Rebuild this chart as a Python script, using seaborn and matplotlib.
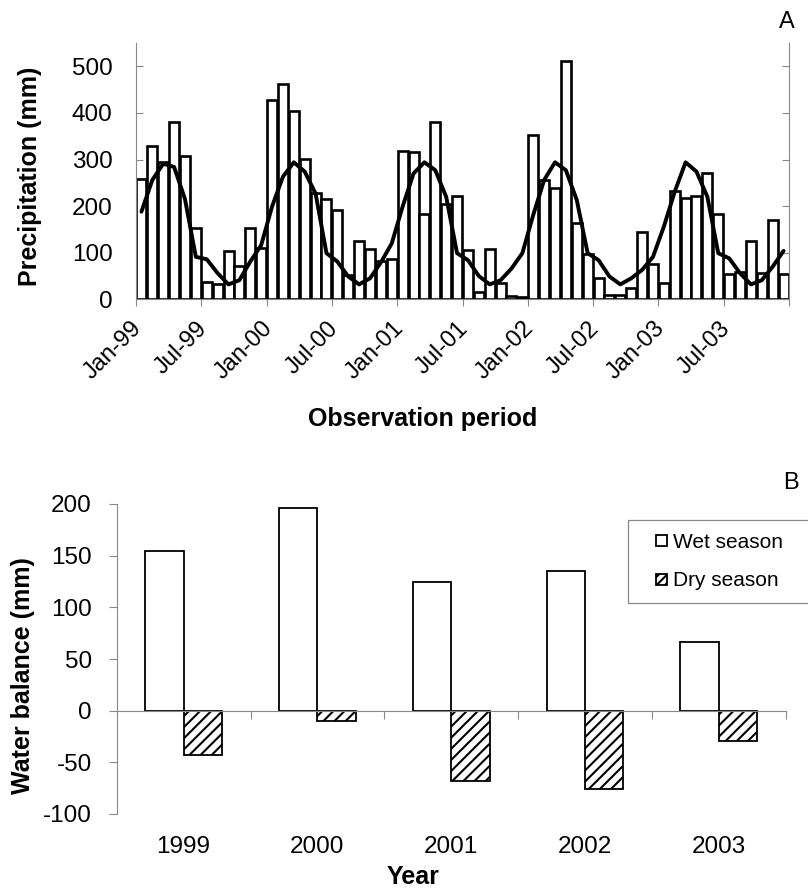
import numpy as np
import pandas as pd
import matplotlib
matplotlib.use("Agg")
import matplotlib.pyplot as plt
import matplotlib.transforms as mtransforms
import seaborn as sns
from matplotlib.patches import Rectangle
from matplotlib.legend_handler import HandlerPatch

# ---------------- data ----------------
month_names = ["Jan", "Feb", "Mar", "Apr", "May", "Jun",
               "Jul", "Aug", "Sep", "Oct", "Nov", "Dec"]
year_codes = ["99", "00", "01", "02", "03"]

precip = [258, 330, 295, 381, 307, 152, 38, 32, 103, 71, 154, 110,
          427, 462, 405, 301, 229, 215, 191, 52, 126, 109, 82, 86,
          319, 316, 184, 381, 205, 221, 106, 15, 109, 36, 7, 5,
          352, 256, 239, 511, 164, 97, 45, 9, 9, 25, 145, 75,
          34, 233, 218, 221, 272, 182, 54, 58, 126, 56, 170, 54]

trend = [188, 256, 291, 284, 215, 91, 86, 56, 32, 41, 81, 116,
         199, 263, 294, 274, 227, 99, 81, 49, 32, 45, 79, 120,
         199, 270, 294, 277, 220, 99, 84, 50, 32, 41, 66, 99,
         181, 256, 294, 277, 213, 99, 84, 49, 32, 45, 63, 91,
         156, 231, 294, 274, 220, 99, 88, 56, 32, 41, 70, 104]

years = ["1999", "2000", "2001", "2002", "2003"]
wet_balance = [155, 196, 125, 135, 66]
dry_balance = [-43, -10, -68, -76, -29]
seasons = ["Wet season", "Dry season"]

# ---------------- style ----------------
sns.set_theme(style="white")
plt.rcParams["font.family"] = ["Liberation Sans", "DejaVu Sans"]
plt.rcParams["axes.unicode_minus"] = False
plt.rcParams["hatch.linewidth"] = 1.5
plt.rcParams["hatch.color"] = "black"
plt.rcParams["text.color"] = "black"
plt.rcParams["axes.labelcolor"] = "black"
plt.rcParams["xtick.labelcolor"] = "black"
plt.rcParams["ytick.labelcolor"] = "black"

GRAY = "#888888"
W, H = 808, 893

fig = plt.figure(figsize=(W / 100, H / 100), dpi=100)
axA = fig.add_axes([136 / W, 1 - 299.3 / H, 653 / W, 256.3 / H])
axB = fig.add_axes([116.7 / W, 1 - 814 / H, 669 / W, 310 / H])

# ---------------- panel A ----------------
month_labels = [f"{m}-{y}" for y in year_codes for m in month_names]
dfA = pd.DataFrame({"idx": np.arange(len(precip)), "month": month_labels,
                    "precip": precip, "trend": trend})

sns.barplot(data=dfA, x="idx", y="precip", native_scale=True, color="white",
            saturation=1, edgecolor="black", linewidth=1.9, width=0.92,
            errorbar=None, ax=axA)
sns.lineplot(data=dfA, x="idx", y="trend", color="black", linewidth=2.8, ax=axA)

axA.set_xlim(-0.5, len(precip) - 0.5)
axA.set_ylim(0, 550)
axA.set_yticks([0, 100, 200, 300, 400, 500])
axA.tick_params(axis="y", direction="in", length=4.8, width=0.8, color=GRAY,
                left=True, right=True, labelleft=True, labelright=False,
                labelsize=17.5, pad=17, labelcolor="black")
label_pos = list(range(0, len(precip), 6))
axA.set_xticks(label_pos)
axA.set_xticklabels([month_labels[i] for i in label_pos], rotation=45, ha="right")
axA.set_xticks([b - 0.5 for b in range(0, len(precip) + 1, 6)], minor=True)
axA.tick_params(axis="x", which="major", length=0, labelsize=17, pad=13,
                bottom=True, labelcolor="black")
axA.tick_params(axis="x", which="minor", direction="out", length=4.8,
                width=0.8, color=GRAY, bottom=True)
shift = mtransforms.ScaledTranslation(5 / 100, 0, fig.dpi_scale_trans)
for lab in axA.get_xticklabels():
    lab.set_transform(lab.get_transform() + shift)
for s in ["left", "right", "bottom"]:
    axA.spines[s].set_color(GRAY)
    axA.spines[s].set_linewidth(0.8)
axA.spines["top"].set_visible(False)
axA.set_xlabel("Observation period", fontsize=18, fontweight="bold", color="black")
axA.xaxis.set_label_coords(0.4387, -0.42)
axA.set_ylabel("Precipitation (mm)", fontsize=18, fontweight="bold", color="black")
axA.yaxis.set_label_coords(-0.144, 0.481)

# ---------------- panel B ----------------
dfB = pd.DataFrame({
    "year": years * 2,
    "season": [seasons[0]] * len(years) + [seasons[1]] * len(years),
    "balance": wet_balance + dry_balance,
})
sns.barplot(data=dfB, x="year", y="balance", hue="season", hue_order=seasons,
            palette={seasons[0]: "white", seasons[1]: "white"}, saturation=1,
            edgecolor="black", linewidth=1.3, width=0.575, errorbar=None,
            legend=False, ax=axB)
for p in axB.containers[1].patches:
    p.set_hatch("///")

axB.set_xlim(-0.5, len(years) - 0.5)
axB.set_ylim(-100, 200)
axB.set_yticks([-100, -50, 0, 50, 100, 150, 200])
axB.tick_params(axis="y", direction="out", length=5.8, width=0.8, color=GRAY,
                labelsize=17.5, pad=12, left=True, labelcolor="black")
axB.set_xticks(range(len(years)))
axB.set_xticklabels(years)
axB.set_xticks([i + 0.5 for i in range(len(years))], minor=True)
axB.tick_params(axis="x", which="major", length=0, labelsize=17.5, pad=90,
                bottom=True, labelcolor="black")
axB.tick_params(axis="x", which="minor", direction="out", length=5.5,
                width=0.8, color=GRAY, bottom=True)
axB.spines["bottom"].set_position(("data", 0))
for s in ["left", "bottom"]:
    axB.spines[s].set_color(GRAY)
    axB.spines[s].set_linewidth(0.8)
axB.spines["top"].set_visible(False)
axB.spines["right"].set_visible(False)
axB.set_xlabel("Year", fontsize=18, fontweight="bold", color="black")
axB.xaxis.set_label_coords(0.443, -0.165)
axB.set_ylabel("Water balance (mm)", fontsize=18, fontweight="bold", color="black")
axB.yaxis.set_label_coords(-0.122, 0.445)


def square_handle(legend, orig_handle, xdescent, ydescent, width, height, fontsize):
    s = 8.0
    return Rectangle((-xdescent + width - s, -ydescent + (height - s) / 2), s, s)


h_wet = Rectangle((0, 0), 1, 1, facecolor="white", edgecolor="black", linewidth=1.3)
h_dry = Rectangle((0, 0), 1, 1, facecolor="white", edgecolor="black",
                  linewidth=1.3, hatch="////")
leg = fig.legend([h_wet, h_dry], seasons, loc="upper left",
                 bbox_to_anchor=(628 / W, 1 - 600 / H, 230 / W, 80 / H),
                 bbox_transform=fig.transFigure, mode="expand",
                 frameon=True, fancybox=False, framealpha=1, edgecolor=GRAY,
                 fontsize=15, handlelength=1.29, handletextpad=0.25,
                 borderpad=0.6, labelspacing=0.96, borderaxespad=0,
                 labelcolor="black",
                 handler_map={Rectangle: HandlerPatch(patch_func=square_handle)})
leg.get_frame().set_linewidth(0.9)

fig.text(787 / W, 1 - 22 / H, "A", ha="center", va="center", fontsize=17, color="black")
fig.text(791 / W, 1 - 483 / H, "B", ha="center", va="center", fontsize=17, color="black")

fig.savefig("out.png", dpi=100)
